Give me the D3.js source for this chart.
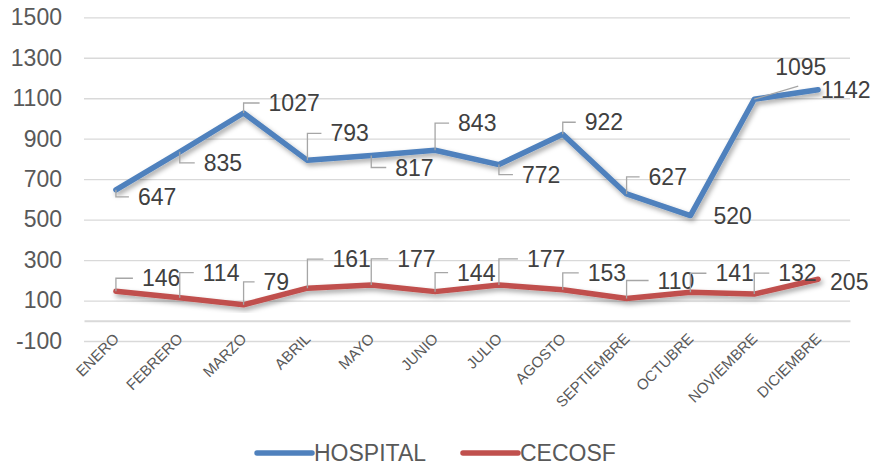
<!DOCTYPE html>
<html>
<head>
<meta charset="utf-8">
<script src="https://cdn.jsdelivr.net/npm/d3@7"></script>
<style>
  body { margin: 0; background: #fff; }
  text { font-family: "Liberation Sans", Arial, sans-serif; }
</style>
</head>
<body>
<div id="chart"></div>
<script>
// data
var months = ["ENERO", "FEBRERO", "MARZO", "ABRIL", "MAYO", "JUNIO", "JULIO",
  "AGOSTO", "SEPTIEMBRE", "OCTUBRE", "NOVIEMBRE", "DICIEMBRE"];
var hospital = [647, 835, 1027, 793, 817, 843, 772, 922, 627, 520, 1095, 1142];
var cecosf = [146, 114, 79, 161, 177, 144, 177, 153, 110, 141, 132, 205];
var yTicks = [-100, 100, 300, 500, 700, 900, 1100, 1300, 1500];
var seriesNames = ["HOSPITAL", "CECOSF"];

// label placement (offset of label left / centre from the point, leader type)
var hospitalLabelPos = [[22, 7, "e"], [24, 11, "e"], [25, -10, "e"], [23, -27, "e"],
  [24, 12, "e"], [23, -27, "e"], [23, 10, "e"], [22, -12, "e"], [22, -17, "e"],
  [23, 0, "n"], [21, -32, "s"], [3, 0, "n"]];
var cecosfLabelPos = [[26, -13, "e"], [23, -25, "e"], [20, -23, "e"], [25, -29, "e"],
  [26, -26, "e"], [22, -19, "e"], [28, -26, "e"], [25, -17, "e"], [31, -18, "e"],
  [25, -19, "e"], [24, -21, "e"], [12, 3, "n"]];

var svgWidth = 872;
var svgHeight = 466;
var colors = ["#4F81BD", "#C0504D"];

var svg = d3.select("#chart")
  .append("svg")
  .attr("width", svgWidth)
  .attr("height", svgHeight);

var defs = svg.append("defs");
var shadow = defs.append("filter")
  .attr("id", "shadow")
  .attr("x", "-10%").attr("y", "-30%")
  .attr("width", "120%").attr("height", "160%");
shadow.append("feDropShadow")
  .attr("dx", 2).attr("dy", 3)
  .attr("stdDeviation", 2.5)
  .attr("flood-color", "#000")
  .attr("flood-opacity", 0.35);

var xScale = d3.scaleBand()
  .domain(months)
  .range([84, 850]);

var yScale = d3.scaleLinear()
  .domain([-100, 1500])
  .range([341, 17.3]);

// gridlines + y labels
var yAxis = d3.axisLeft(yScale)
  .tickValues(yTicks)
  .tickFormat(d => String(d))
  .tickSizeInner(-(850 - 84))
  .tickSizeOuter(0)
  .tickPadding(22);

var yG = svg.append("g")
  .attr("transform", "translate(84,0)")
  .call(yAxis);
yG.select(".domain").remove();
yG.selectAll(".tick line").attr("stroke", "#d9d9d9").attr("stroke-width", 1.3);
yG.selectAll(".tick text")
  .attr("fill", "#595959")
  .style("font-size", "23px");

// category axis at zero
var xAxis = d3.axisBottom(xScale).tickSize(0).tickPadding(0);
var xG = svg.append("g")
  .attr("transform", `translate(0, ${yScale(0)})`)
  .call(xAxis);
xG.select(".domain").attr("stroke", "#d9d9d9").attr("stroke-width", 2);
xG.selectAll(".tick text")
  .attr("fill", "#595959")
  .style("font-size", "15px")
  .attr("text-anchor", "end")
  .attr("dy", 0)
  .attr("y", 0)
  .attr("transform", "translate(4, 19) rotate(-45)");

var line = d3.line()
  .x((d, i) => xScale(months[i]) + xScale.bandwidth() / 2)
  .y(d => yScale(d));

var allSeries = [hospital, cecosf];
var allPos = [hospitalLabelPos, cecosfLabelPos];

allSeries.forEach(function(values, s) {
  svg.append("path")
    .datum(values)
    .attr("d", line)
    .attr("fill", "none")
    .attr("stroke", colors[s])
    .attr("stroke-width", 5.5)
    .attr("stroke-linejoin", "round")
    .attr("stroke-linecap", "round")
    .attr("filter", "url(#shadow)");
});

allSeries.forEach(function(values, s) {
  var g = svg.append("g");
  values.forEach(function(v, i) {
    var px = xScale(months[i]) + xScale.bandwidth() / 2;
    var py = yScale(v);
    var p = allPos[s][i];
    var lx = px + p[0];
    var ly = py + p[1];
    if (p[2] === "e") {
      g.append("path")
        .attr("d", `M${px},${py}V${ly}H${lx - 9}`)
        .attr("fill", "none")
        .attr("stroke", "#a6a6a6")
        .attr("stroke-width", 1.3);
    } else if (p[2] === "s") {
      g.append("path")
        .attr("d", `M${px},${py}L${lx + 23},${ly + 19}`)
        .attr("fill", "none")
        .attr("stroke", "#a6a6a6")
        .attr("stroke-width", 1.3);
    }
    g.append("text")
      .attr("x", lx)
      .attr("y", ly)
      .attr("dy", "0.35em")
      .attr("fill", "#404040")
      .style("font-size", "23px")
      .text(v);
  });
});

// legend
var legend = svg.append("g");
var legendX = [257, 463];
seriesNames.forEach(function(name, s) {
  legend.append("line")
    .attr("x1", legendX[s]).attr("x2", legendX[s] + 55)
    .attr("y1", 453).attr("y2", 453)
    .attr("stroke", colors[s])
    .attr("stroke-width", 5.5)
    .attr("stroke-linecap", "round");
  legend.append("text")
    .attr("x", legendX[s] + 57)
    .attr("y", 453)
    .attr("dy", "0.35em")
    .attr("fill", "#595959")
    .style("font-size", "23px")
    .text(name);
});
</script>
</body>
</html>
